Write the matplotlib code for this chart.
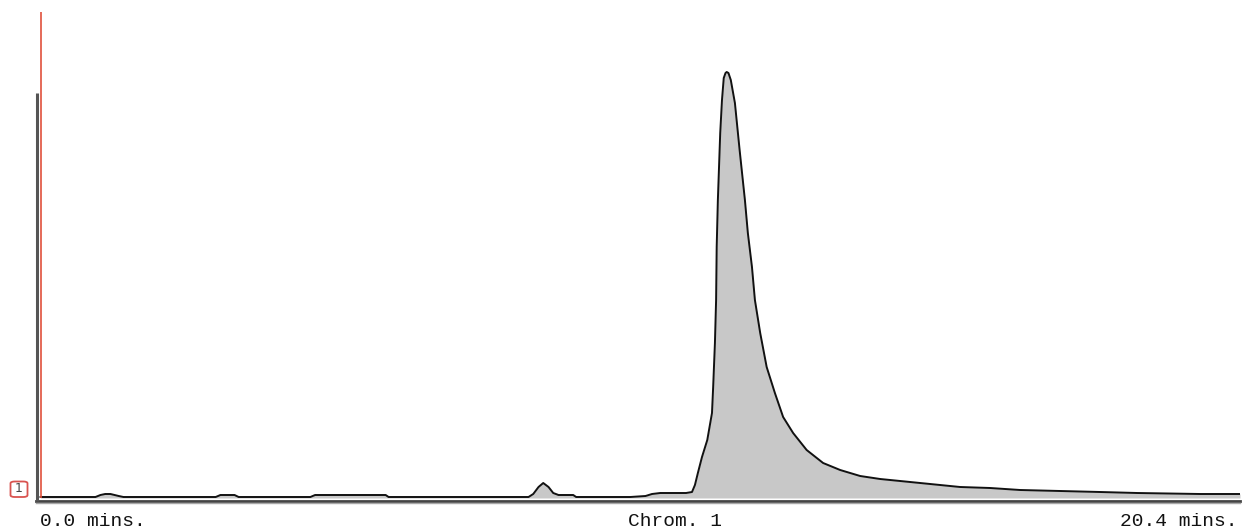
import matplotlib
matplotlib.use("Agg")
import matplotlib.pyplot as plt
from matplotlib.patches import FancyBboxPatch

# Chromatogram trace (time in minutes, signal in arbitrary units)
time_min = [0.00, 0.935, 1.02, 1.10, 1.19, 1.33, 1.41, 2.98, 3.06, 3.30, 3.37,
            4.59, 4.67, 5.87, 5.92, 8.30, 8.38, 8.47, 8.55, 8.64, 8.72, 8.81,
            9.06, 9.11, 10.03, 10.29, 10.40, 10.54, 10.98, 11.08, 11.13, 11.18,
            11.25, 11.34, 11.42, 11.44, 11.47, 11.49, 11.50, 11.52, 11.56, 11.59,
            11.62, 11.65, 11.67, 11.70, 11.74, 11.81, 11.89, 11.98, 12.03, 12.10,
            12.15, 12.24, 12.35, 12.49, 12.63, 12.80, 13.03, 13.31, 13.60, 13.94,
            14.28, 14.62, 14.96, 15.30, 15.64, 16.15, 16.66, 17.34, 18.02, 18.65,
            19.72, 20.40]
signal = [0, 0, 2, 3, 3, 1, 0, 0, 2, 2, 0,
          0, 2, 2, 0, 0, 3, 10, 14, 10, 4, 2,
          2, 0, 0, 1, 3, 4, 4, 5, 12, 24,
          40, 57, 84, 110, 154, 197, 250, 297, 364, 397,
          419, 424, 425, 424, 417, 394, 347, 297, 264, 230,
          197, 164, 130, 104, 80, 64, 47, 34, 27, 21,
          18, 16, 14, 12, 10, 9, 7, 6, 5, 4,
          3, 3]

t_start, t_end = 0.0, 20.4
start_label = "0.0 mins."
end_label = "20.4 mins."
chrom_label = "Chrom. 1"
channel_label = "1"
scale_bar_height = 404

W, H = 1243, 532
fig = plt.figure(figsize=(W / 100, H / 100), dpi=100)
fig.patch.set_facecolor("white")

# axes in pixel coords: left 36, right 1240, bottom 500, top 12
left_px, right_px, bottom_px, top_px = 36, 1240, 500, 12
ax = fig.add_axes([left_px / W, 1 - bottom_px / H,
                   (right_px - left_px) / W, (bottom_px - top_px) / H])
px_per_min = (1240 - 40.5) / (t_end - t_start)
ax.set_xlim(t_start - 4.5 / px_per_min, t_end)
ax.set_ylim(-3, 485)
ax.axis("off")

ax.fill_between(time_min, signal, -1, color="#c8c8c8", lw=0, zorder=1)
ax.plot(time_min, signal, color="#111111", lw=1.4, zorder=3,
        solid_joinstyle="round")

# bottom axis lines
ax.axhline(-3.5, color="#444444", lw=2.0, zorder=4, clip_on=False)
ax.axhline(-6, color="#a8a8a8", lw=1.0, zorder=4, clip_on=False)
# grey scale bar and red start marker
ax.plot([t_start - 3.5 / px_per_min] * 2, [-4, scale_bar_height],
        color="#555555", lw=2.2, zorder=4, solid_capstyle="butt",
        clip_on=False)
ax.plot([t_start, t_start], [-1, 485], color="#e0503c", lw=1.2, zorder=5,
        solid_capstyle="butt")

mono = "Liberation Mono"
fig.text(40 / W, 1 - 522 / H, start_label, family=mono, fontsize=14,
         ha="left", va="center", color="#111111")
fig.text(675 / W, 1 - 522 / H, chrom_label, family=mono, fontsize=14,
         ha="center", va="center", color="#111111")
fig.text(1238 / W, 1 - 522 / H, end_label, family=mono, fontsize=14,
         ha="right", va="center", color="#111111")

# channel marker box
box = FancyBboxPatch((10.5 / W, 1 - 497 / H), 17 / W, 15.5 / H,
                     boxstyle="round,pad=0,rounding_size=0.0035",
                     transform=fig.transFigure, facecolor="white",
                     edgecolor="#d9534f", lw=1.3)
fig.patches.append(box)
fig.text(19 / W, 1 - 489 / H, channel_label, family="DejaVu Sans",
         fontsize=9, ha="center", va="center", color="#444444")

fig.savefig("out.png", dpi=100)
